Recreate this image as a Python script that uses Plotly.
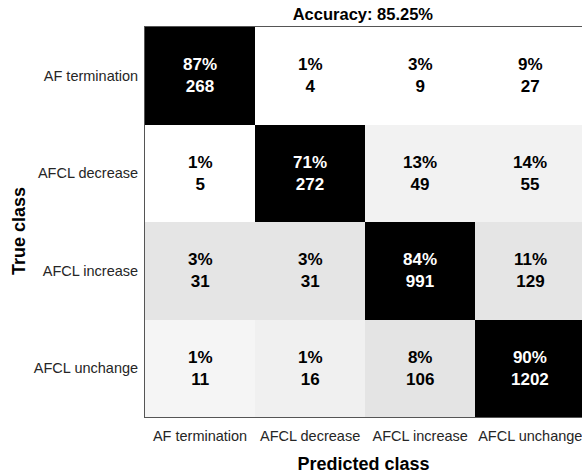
import plotly.graph_objects as go

# confusion matrix
classes = ["AF termination", "AFCL decrease", "AFCL increase", "AFCL unchange"]
counts = [
    [268, 4, 9, 27],
    [5, 272, 49, 55],
    [31, 31, 991, 129],
    [11, 16, 106, 1202],
]
percents = [
    [87, 1, 3, 9],
    [1, 71, 13, 14],
    [3, 3, 84, 11],
    [1, 1, 8, 90],
]
# gray level of each cell as seen in the picture (0 = black, 255 = white)
cell_shade = [
    [0, 255, 255, 255],
    [255, 0, 242, 242],
    [229, 229, 0, 229],
    [245, 240, 228, 0],
]
accuracy = 85.25

FONT = "Liberation Sans, Arial, sans-serif"

fig = go.Figure(go.Heatmap(
    z=cell_shade,
    x=classes,
    y=classes,
    zmin=0, zmax=255,
    colorscale=[[0, "black"], [1, "white"]],
    showscale=False,
    hoverinfo="skip",
))

for i, row_name in enumerate(classes):
    for j, col_name in enumerate(classes):
        fig.add_annotation(
            x=col_name, y=row_name,
            text=f"<b>{percents[i][j]}%<br>{counts[i][j]}</b>",
            showarrow=False,
            font=dict(family=FONT, size=17, color="white" if cell_shade[i][j] < 128 else "black"),
        )

# y title sits a little below the middle of the matrix in the original
fig.add_annotation(
    text="<b>True class</b>", textangle=-90, showarrow=False,
    xref="paper", yref="paper", x=-0.288, y=0.477,
    xanchor="center", yanchor="middle",
    font=dict(family=FONT, size=18, color="black"),
)

fig.update_xaxes(
    title=dict(text="<b>Predicted class</b>", font=dict(size=18, color="black"), standoff=16),
    tickfont=dict(size=14.5, color="#262626"), ticklabelstandoff=6,
    showline=True, linecolor="#555", mirror=True, linewidth=1,
    range=[-0.5, 3.47], ticks="",
)
fig.update_yaxes(
    tickfont=dict(size=14.5, color="#262626"), ticklabelstandoff=3,
    showline=True, linecolor="#555", mirror=True, linewidth=1,
    autorange="reversed", ticks="",
)
fig.update_layout(
    width=582, height=474,
    margin=dict(l=145, r=0, t=27, b=57),
    title=dict(text=f"<b>Accuracy: {accuracy:.2f}%</b>", x=0.6235, xanchor="center",
               y=0.9705, yanchor="middle", font=dict(size=16.5, color="black")),
    font=dict(family=FONT, color="black"),
    plot_bgcolor="white", paper_bgcolor="white",
)

fig.write_html("out.html", config={"displayModeBar": False},
               post_script="document.body.style.margin='0';")
